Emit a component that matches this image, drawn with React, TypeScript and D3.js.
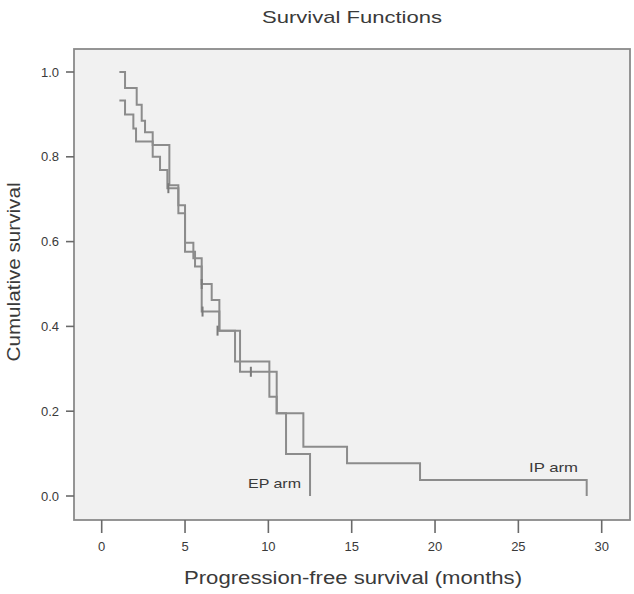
import React from 'react';
import * as d3 from 'd3';

// Kaplan-Meier steps: [months, cumulative survival]
const ipArm: [number, number][] = [
  [1.06, 1.0], [1.4, 0.962], [2.1, 0.923], [2.4, 0.885], [2.6, 0.858], [3.06, 0.828],
  [4.06, 0.733], [4.6, 0.686], [5.0, 0.597], [5.5, 0.561], [6.0, 0.5], [6.6, 0.462],
  [7.06, 0.39], [8.0, 0.317], [10.06, 0.234], [10.5, 0.195], [12.1, 0.116],
  [14.72, 0.077], [19.1, 0.038], [29.1, 0.0],
];
const epArm: [number, number][] = [
  [1.06, 0.933], [1.4, 0.9], [1.9, 0.867], [2.06, 0.836], [3.06, 0.8], [3.5, 0.769],
  [3.94, 0.726], [4.6, 0.667], [5.0, 0.576], [5.6, 0.541], [6.0, 0.435], [7.06, 0.39],
  [8.3, 0.293], [10.5, 0.195], [11.06, 0.099], [12.5, 0.0],
];
const censored: [number, number][] = [
  [4.0, 0.726], [6.0, 0.5], [6.05, 0.435], [6.95, 0.39], [8.95, 0.293],
];
const xTicks = [0, 5, 10, 15, 20, 25, 30];
const yTicks = [0, 0.2, 0.4, 0.6, 0.8, 1.0];

const W = 634;
const H = 594;
const frame = { left: 74, top: 49, right: 630, bottom: 520 };
const lineCol = '#8c8c8c';
const textCol = '#3a3a3a';
const font = 'Liberation Sans, Arial, sans-serif';

const App = () => {
  const x = d3.scaleLinear().domain([0, 30]).range([101.7, 601.7]);
  const y = d3.scaleLinear().domain([0, 1]).range([496, 72]);
  const step = d3
    .line<[number, number]>()
    .x(d => x(d[0]))
    .y(d => y(d[1]))
    .curve(d3.curveStepAfter);

  return (
    <svg width={W} height={H} style={{ display: 'block', position: 'absolute', left: 0, top: 0 }}>
      <rect x={0} y={0} width={W} height={H} fill="#fff" />
      <text x={352} y={23} textAnchor="middle" fontFamily={font} fontSize={17}
        textLength={180} lengthAdjust="spacingAndGlyphs" fill={textCol}>
        Survival Functions
      </text>
      <rect x={frame.left} y={frame.top} width={frame.right - frame.left}
        height={frame.bottom - frame.top} fill="#f1f1f1" stroke="#8a8a8a" strokeWidth={1.8} />

      {yTicks.map(t => (
        <g key={'y' + t}>
          <line x1={frame.left - 8} x2={frame.left} y1={y(t)} y2={y(t)} stroke="#6a6a6a" strokeWidth={1.6} />
          <text x={frame.left - 15} y={y(t) + 4.5} textAnchor="end" fontFamily={font} fontSize={13}
            fill={textCol}>{d3.format('.1f')(t)}</text>
        </g>
      ))}
      {xTicks.map(t => (
        <g key={'x' + t}>
          <line x1={x(t)} x2={x(t)} y1={frame.bottom} y2={frame.bottom + 13} stroke="#6a6a6a" strokeWidth={1.6} />
          <text x={x(t)} y={551} textAnchor="middle" fontFamily={font} fontSize={13}
            fill={textCol}>{t}</text>
        </g>
      ))}

      <path d={step(epArm) || ''} fill="none" stroke={lineCol} strokeWidth={2} />
      <path d={step(ipArm) || ''} fill="none" stroke={lineCol} strokeWidth={2} />
      {censored.map((c, i) => (
        <g key={'c' + i}>
          <line x1={x(c[0])} x2={x(c[0])} y1={y(c[1]) - 5} y2={y(c[1]) + 5} stroke="#7a7a7a" strokeWidth={2} />
        </g>
      ))}

      <text x={248} y={488} fontFamily={font} fontSize={13} fill={textCol}
        textLength={53} lengthAdjust="spacingAndGlyphs">EP arm</text>
      <text x={529} y={472} fontFamily={font} fontSize={13} fill={textCol}
        textLength={49} lengthAdjust="spacingAndGlyphs">IP arm</text>

      <text x={353} y={584} textAnchor="middle" fontFamily={font} fontSize={18}
        textLength={338} lengthAdjust="spacingAndGlyphs" fill={textCol}>
        Progression-free survival (months)
      </text>
      <text transform={`translate(20, 272) rotate(-90)`} textAnchor="middle" fontFamily={font} fontSize={18}
        textLength={179} lengthAdjust="spacingAndGlyphs" fill={textCol}>
        Cumulative survival
      </text>
    </svg>
  );
};

export default App;
